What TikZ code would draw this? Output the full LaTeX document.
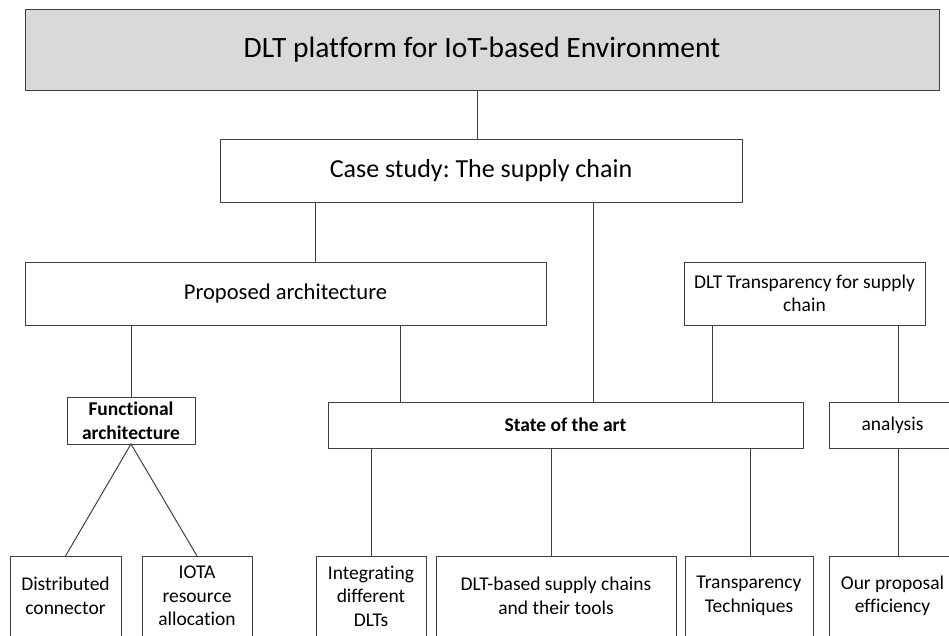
\documentclass[tikz,border=0pt]{standalone}
\usepackage{fontspec}
\setmainfont{Carlito}[Ligatures={TeX,NoCommon}]
\frenchspacing
\definecolor{headgray}{RGB}{217,217,217}
\tikzset{
	box/.style={draw=black!75, line width=1pt, inner sep=2pt, outer sep=0pt,
		align=center, text=black, fill=white},
	link/.style={draw=black!75, line width=1pt},
	small/.style={font=\fontsize{19.5}{23.5}\selectfont},
}
\begin{document}
\begin{tikzpicture}[x=1pt,y=-1pt]
	      \useasboundingbox (0,0) rectangle (949,635);
	      \clip (0,0) rectangle (949,635);
	      \def\Low{80}
	      % Top levels
	      \node[box, fill=headgray, minimum width=914, minimum height=81,
		font=\fontsize{29.5}{35}\selectfont] (platform) at (482,49.5)
		{DLT platform for IoT-based Environment};
	      \node[box, minimum width=522, minimum height=63,
		font=\fontsize{26}{31}\selectfont] (casestudy) at (481,170.5)
		{Case study: The supply chain};
	      \node[box, minimum width=521, minimum height=63,
		font=\fontsize{22.6}{27}\selectfont] (proposed) at (285.5,293.5)
		{Proposed architecture};
	      \node[box, small, minimum width=241, minimum height=63] (transp) at (804.5,293.5)
		{DLT Transparency for supply\\chain};
	      % Middle level
	      \node[box, small, minimum width=128, minimum height=47] (functional) at (131,420.5)
		{\textbf{Functional}\\\textbf{architecture}};
	      \node[box, small, minimum width=475, minimum height=46] (stateart) at (565.5,425)
		{\textbf{State of the art}};
	      \node[box, small, minimum width=127, minimum height=46] (analysis) at (892.5,425)
		{analysis};
	      % Bottom level
	      \node[box, small, minimum width=111, minimum height=\Low] (distrib) at (65.5,596)
		{Distributed\\connector};
	      \node[box, small, minimum width=110, minimum height=\Low] (iota) at (197,596)
		{IOTA\\resource\\allocation};
	      \node[box, small, minimum width=110, minimum height=\Low] (integ) at (371,596)
		{Integrating\\different\\DLTs};
	      \node[box, small, minimum width=240, minimum height=\Low] (dltbased) at (556,596)
		{DLT-based supply chains\\and their tools};
	      \node[box, small, minimum width=128, minimum height=\Low] (techn) at (749,596)
		{Transparency\\Techniques};
	      \node[box, small, minimum width=127, minimum height=\Low] (ourprop) at (892.5,596)
		{Our proposal\\efficiency};
	      % Connectors
	      \draw[link] (477,0 |- platform.south) -- (477,0 |- casestudy.north);
	      \draw[link] (315,0 |- casestudy.south) -- (315,0 |- proposed.north);
	      \draw[link] (593,0 |- casestudy.south) -- (593,0 |- stateart.north);
	      \draw[link] (131,0 |- proposed.south) -- (131,0 |- functional.north);
	      \draw[link] (400,0 |- proposed.south) -- (400,0 |- stateart.north);
	      \draw[link] (712,0 |- transp.south) -- (712,0 |- stateart.north);
	      \draw[link] (898,0 |- transp.south) -- (898,0 |- analysis.north);
	      \draw[link] (distrib.north) -- (functional.south) -- (iota.north);
	      \draw[link] (371,0 |- stateart.south) -- (371,0 |- integ.north);
	      \draw[link] (551,0 |- stateart.south) -- (551,0 |- dltbased.north);
	      \draw[link] (750,0 |- stateart.south) -- (750,0 |- techn.north);
	      \draw[link] (898,0 |- analysis.south) -- (898,0 |- ourprop.north);
\end{tikzpicture}
\end{document}
